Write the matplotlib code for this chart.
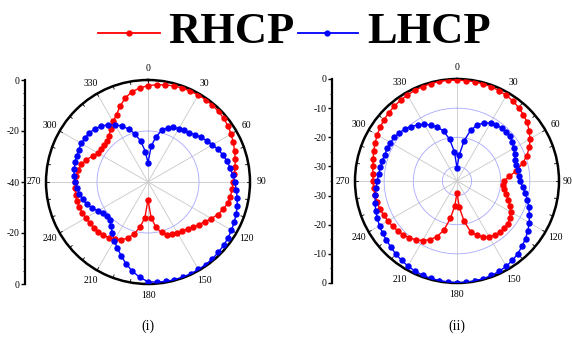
import numpy as np
import matplotlib
matplotlib.use('Agg')
import matplotlib.pyplot as plt
from matplotlib.lines import Line2D

# ---------------- data ----------------
angles_deg = list(range(0, 360, 5))

rhcp_i = [-2.2, -1.7, -1.3, -1.0, -0.8, -0.7, -0.6, -0.6, -0.7, -0.9,
          -1.2, -1.7, -2.4, -3.1, -3.9, -4.6, -5.3, -6.0, -6.6, -6.9,
          -7.2, -7.7, -8.6, -9.8, -11.3, -12.8, -14.0, -15.0, -15.9, -16.6,
          -17.1, -17.5, -18.0, -19.5, -22.0, -26.0, -33.0, -26.0, -22.0, -19.0,
          -16.5, -15.0, -14.0, -13.3, -12.8, -12.5, -12.2, -12.0, -11.8, -11.5,
          -11.3, -11.2, -11.2, -11.3, -11.5, -11.8, -12.3, -13.0, -14.3, -16.0,
          -17.3, -17.7, -17.7, -17.3, -16.2, -14.6, -12.6, -10.8, -8.2, -5.8,
          -4.0, -3.0]

lhcp_i = [-32.5, -26.0, -22.0, -19.0, -17.3, -16.4, -15.8, -15.3, -14.7, -13.8,
          -12.8, -11.8, -10.8, -9.7, -8.8, -8.0, -7.3, -6.7, -6.0, -5.2,
          -4.5, -3.8, -3.2, -2.7, -2.2, -1.7, -1.3, -1.0, -0.7, -0.5,
          -0.4, -0.3, -0.3, -0.3, -0.4, -0.6, -0.9, -2.5, -4.5, -6.8,
          -9.2, -11.5, -13.5, -15.5, -17.5, -18.8, -19.0, -18.5, -17.3, -15.8,
          -14.5, -13.5, -12.7, -12.0, -11.4, -10.9, -10.6, -10.4, -10.2, -10.0,
          -9.8, -9.8, -10.0, -10.5, -11.4, -12.6, -14.0, -15.8, -17.9, -20.5,
          -23.8, -28.0]

rhcp_ii = [-0.4, -0.4, -0.4, -0.5, -0.6, -0.8, -1.1, -1.5, -2.1, -2.8,
           -3.6, -4.8, -6.1, -7.6, -9.5, -11.7, -14.3, -17.0, -18.8, -19.0,
           -18.5, -17.5, -16.3, -15.0, -13.8, -12.9, -12.3, -12.0, -12.0, -12.3,
           -12.9, -13.9, -15.2, -17.0, -21.0, -26.0, -31.0, -26.5, -22.0, -17.5,
           -14.6, -12.8, -11.4, -10.4, -9.6, -8.9, -8.4, -8.0, -7.6, -7.2,
           -6.9, -6.6, -6.4, -6.3, -6.2, -6.0, -5.7, -5.2, -4.6, -4.0,
           -3.4, -2.8, -2.3, -1.9, -1.5, -1.2, -0.9, -0.7, -0.5, -0.4,
           -0.3, -0.3]

lhcp_ii = [-30.5, -26.0, -21.0, -17.0, -14.5, -13.0, -12.0, -11.5, -11.2, -11.0,
           -11.2, -11.8, -12.5, -13.2, -13.7, -13.9, -13.9, -13.8, -13.4, -12.4,
           -11.2, -10.0, -8.8, -7.6, -6.4, -5.3, -4.3, -3.4, -2.5, -1.8,
           -1.2, -0.8, -0.5, -0.3, -0.2, -0.1, -0.1, -0.2, -0.3, -0.4,
           -0.6, -0.9, -1.3, -1.8, -2.3, -2.9, -3.4, -3.8, -4.3, -4.8,
           -5.3, -5.9, -6.5, -7.1, -7.6, -8.0, -8.3, -8.5, -8.6, -8.6,
           -8.6, -8.8, -9.2, -9.8, -10.6, -11.5, -12.5, -13.8, -15.3, -17.3,
           -20.5, -25.0]

angle_ticks = [0, 30, 60, 90, 120, 150, 180, 210, 240, 270, 300, 330]
angle_labels = ['0', '30', '60', '90', '120', '150', '180', '210', '240', '270', '300', '330']

rmin_i, rmin_ii = -40, -35
circles_i = [-20]
circles_ii = [-30, -20, -10]
left_pos_i = [40, 20, 0, -20, -40]
left_lab_i = ['0', '-20', '-40', '-20', '0']
left_pos_ii = [35, 25, 15, 5, -5, -15, -25, -35]
left_lab_ii = ['0', '-10', '-20', '-30', '-30', '-20', '-10', '0']

series_names = ['RHCP', 'LHCP']
series_colors = ['#ff0000', '#0000ff']
panel_names = ['(i)', '(ii)']

# ---------------- figure ----------------
W, H = 572, 338
fig = plt.figure(figsize=(W / 100, H / 100), dpi=100)
fig.patch.set_facecolor('white')
SERIF = 'Liberation Serif'


def fx(px):
    return px / W


def fy(py):
    return 1 - py / H


def panel(cx, cy, R, rmin, red, blue, circles, axis_x, lpos, llab, title, lab90_r=1.115):
    ax = fig.add_axes([fx(cx - R), fy(cy + R), 2 * R / W, 2 * R / H], projection='polar')
    ax.set_theta_zero_location('N')
    ax.set_theta_direction(-1)
    ax.set_ylim(rmin, 0)
    ax.grid(False)
    ax.set_xticks([])
    ax.set_yticks([])
    ax.spines['polar'].set_linewidth(1.8)
    ax.spines['polar'].set_color('black')
    for a in angle_ticks:
        t = np.deg2rad(a)
        ax.plot([t, t], [rmin, 0], color='#c8c8c8', lw=0.6, zorder=1)
    full = np.linspace(0, 2 * np.pi, 361)
    for c in circles:
        ax.plot(full, np.full_like(full, c), color='#a8a8ff', lw=0.6, zorder=1)
    th = np.deg2rad(np.array(angles_deg + [360]))
    for vals, col in zip([red, blue], series_colors):
        v = np.array(vals + [vals[0]])
        ax.plot(th, v, '-', color=col, lw=1.0, zorder=3)
        ax.plot(th[:-1], v[:-1], 'o', color=col, ms=4.6, mew=0, zorder=4)
    for a, s in zip(angle_ticks, angle_labels):
        f = lab90_r if a == 90 else 1.115
        ax.text(np.deg2rad(a), rmin + f * (-rmin), s, ha='center', va='center',
                fontsize=7, family=SERIF, clip_on=False)
    # small ticks on the outer circle
    for a in range(0, 360, 10):
        t = np.deg2rad(a)
        ax.plot([t, t], [0, -0.03 * (-rmin)], color='black', lw=0.6, zorder=2)

    # left radial axis
    la = fig.add_axes([fx(axis_x), fy(cy + R), 0.0001, 2 * R / H])
    span = -rmin
    la.set_ylim(-span, span)
    la.set_xlim(0, 1)
    for sp in ['right', 'top', 'bottom']:
        la.spines[sp].set_visible(False)
    la.spines['left'].set_linewidth(1.6)
    la.set_xticks([])
    la.set_yticks(lpos)
    la.set_yticklabels(llab, family=SERIF, fontsize=7)
    la.tick_params(axis='y', direction='out', length=3, width=1.0, pad=1)
    minors = np.arange(-span, span + 0.01, 5)
    la.set_yticks(minors, minor=True)
    la.tick_params(axis='y', which='minor', direction='out', length=1.5, width=0.6)
    la.patch.set_alpha(0)

    fig.text(fx(cx), fy(326), title, ha='center', va='center', fontsize=10, family=SERIF)


panel(148, 182, 102, rmin_i, rhcp_i, lhcp_i, circles_i, 25, left_pos_i, left_lab_i, panel_names[0])
panel(457, 181, 102, rmin_ii, rhcp_ii, lhcp_ii, circles_ii, 332, left_pos_ii, left_lab_ii,
      panel_names[1], lab90_r=1.085)

# ---------------- legend ----------------
leg = [(98, 160, 129, 168), (298, 358, 327, 367)]
for (x0, x1, xm, xt), name, col in zip(leg, series_names, series_colors):
    fig.add_artist(Line2D([fx(x0), fx(x1)], [fy(33), fy(33)], color=col, lw=1.3,
                          transform=fig.transFigure))
    fig.add_artist(Line2D([fx(xm)], [fy(33)], color=col, marker='o', ms=4.5, mew=0,
                          transform=fig.transFigure))
    fig.text(fx(xt), fy(43), name, ha='left', va='baseline', fontsize=32,
             fontweight='bold', family=SERIF)

fig.savefig('out.png', dpi=100, facecolor='white')
